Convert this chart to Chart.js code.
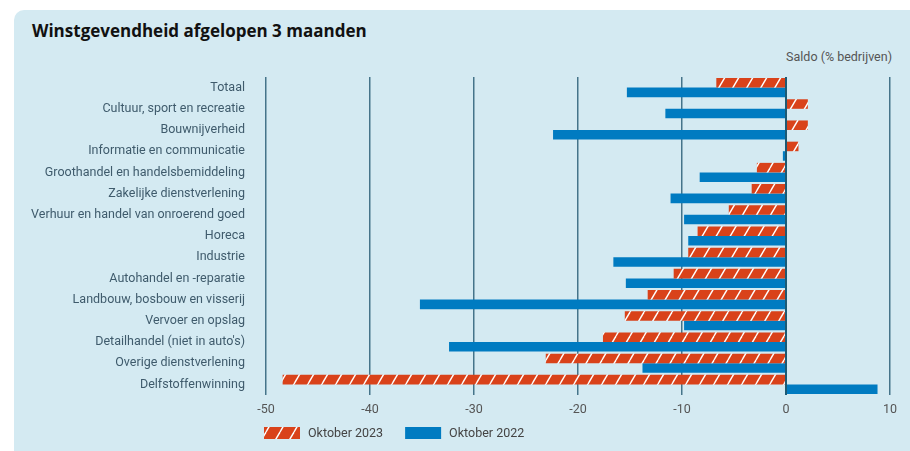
<!DOCTYPE html>
<html>
<head>
<meta charset="utf-8">
<script src="https://cdn.jsdelivr.net/npm/chart.js@4"></script>
<style>
  body { margin: 0; background: #fff; width: 910px; height: 451px; overflow: hidden; position: relative; font-family: Roboto, sans-serif; }
  .panel { position: absolute; left: 14px; top: 10px; width: 920px; height: 460px; border-radius: 10px; background: #d4eaf2; }
  .title { position: absolute; left: 32px; top: 19px; font: bold 17px "Open Sans", sans-serif; color: #111; }
  .unit { position: absolute; right: 18px; top: 49px; font: 12.5px Roboto, sans-serif; color: #555; }
  canvas { position: absolute; left: 0; top: 0; }
</style>
</head>
<body>
<div class="panel"></div>
<div class="title">Winstgevendheid afgelopen 3 maanden</div>
<div class="unit">Saldo (% bedrijven)</div>
<canvas id="winstChart" width="910" height="451"></canvas>
<script>
const categories = [
  "Totaal",
  "Cultuur, sport en recreatie",
  "Bouwnijverheid",
  "Informatie en communicatie",
  "Groothandel en handelsbemiddeling",
  "Zakelijke dienstverlening",
  "Verhuur en handel van onroerend goed",
  "Horeca",
  "Industrie",
  "Autohandel en -reparatie",
  "Landbouw, bosbouw en visserij",
  "Vervoer en opslag",
  "Detailhandel (niet in auto's)",
  "Overige dienstverlening",
  "Delfstoffenwinning",
];
const oktober2023 = [-6.7, 2.1, 2.1, 1.2, -2.8, -3.3, -5.5, -8.5, -9.4, -10.8, -13.3, -15.5, -17.6, -23.1, -48.4];
const oktober2022 = [-15.3, -11.6, -22.4, -0.3, -8.3, -11.1, -9.8, -9.4, -16.6, -15.4, -35.2, -9.8, -32.4, -13.8, 8.8];
const xTicks = [-50, -40, -30, -20, -10, 0, 10];

const orange = "#d9421a";
const blue = "#007bc1";

// diagonal white stripes on orange
function makeHatch() {
  const tile = document.createElement("canvas");
  tile.width = 14;
  tile.height = 24;
  const t = tile.getContext("2d");
  t.fillStyle = orange;
  t.fillRect(0, 0, 14, 24);
  t.strokeStyle = "#ffffff";
  t.lineWidth = 1.4;
  for (let dx of [-14, 0, 14]) {
    t.beginPath();
    t.moveTo(dx, 24);
    t.lineTo(dx + 14, 0);
    t.stroke();
  }
  return document.getElementById("winstChart").getContext("2d").createPattern(tile, "repeat");
}

const hatch = makeHatch();

const legendPlugin = {
  id: "ownLegend",
  afterDraw(chart) {
    const c = chart.ctx;
    let x = 264;
    const y = 433;
    c.save();
    c.font = "12.5px Roboto, sans-serif";
    c.textBaseline = "middle";
    chart.data.datasets.forEach((ds) => {
      c.fillStyle = ds.backgroundColor;
      c.fillRect(x, y - 6, 36, 12);
      x += 36 + 8;
      c.fillStyle = "#444";
      c.fillText(ds.label, x, y + 1);
      x += c.measureText(ds.label).width + 22;
    });
    c.restore();
  },
};

new Chart(document.getElementById("winstChart"), {
  type: "bar",
  data: {
    labels: categories,
    datasets: [
      { label: "Oktober 2023", data: oktober2023, backgroundColor: hatch },
      { label: "Oktober 2022", data: oktober2022, backgroundColor: blue },
    ],
  },
  options: {
    indexAxis: "y",
    responsive: false,
    animation: false,
    layout: { padding: { top: 77, right: 20, left: 0, bottom: 0 } },
    datasets: { bar: { categoryPercentage: 0.9, barPercentage: 1.0 } },
    plugins: {
      legend: { display: false },
      tooltip: { enabled: false },
    },
    scales: {
      x: {
        min: -50,
        max: 10,
        afterBuildTicks: (scale) => {
          scale.ticks = xTicks.map((v) => ({ value: v }));
        },
        afterFit: (scale) => {
          scale.height = 56;
        },
        border: { display: false },
        grid: {
          drawTicks: false,
          color: (ctx) => (ctx.tick && ctx.tick.value === 0 ? "#1d5a74" : "#45748a"),
          lineWidth: (ctx) => (ctx.tick && ctx.tick.value === 0 ? 2 : 1.5),
        },
        ticks: { padding: 7, color: "#555", font: { family: "Roboto", size: 12.5 } },
      },
      y: {
        afterFit: (scale) => {
          scale.width = 266;
        },
        border: { display: false },
        grid: { display: false },
        ticks: { padding: 13, color: "#3f5b6c", font: { family: "Roboto", size: 12.5 }, autoSkip: false },
      },
    },
  },
  plugins: [legendPlugin],
});
</script>
</body>
</html>
